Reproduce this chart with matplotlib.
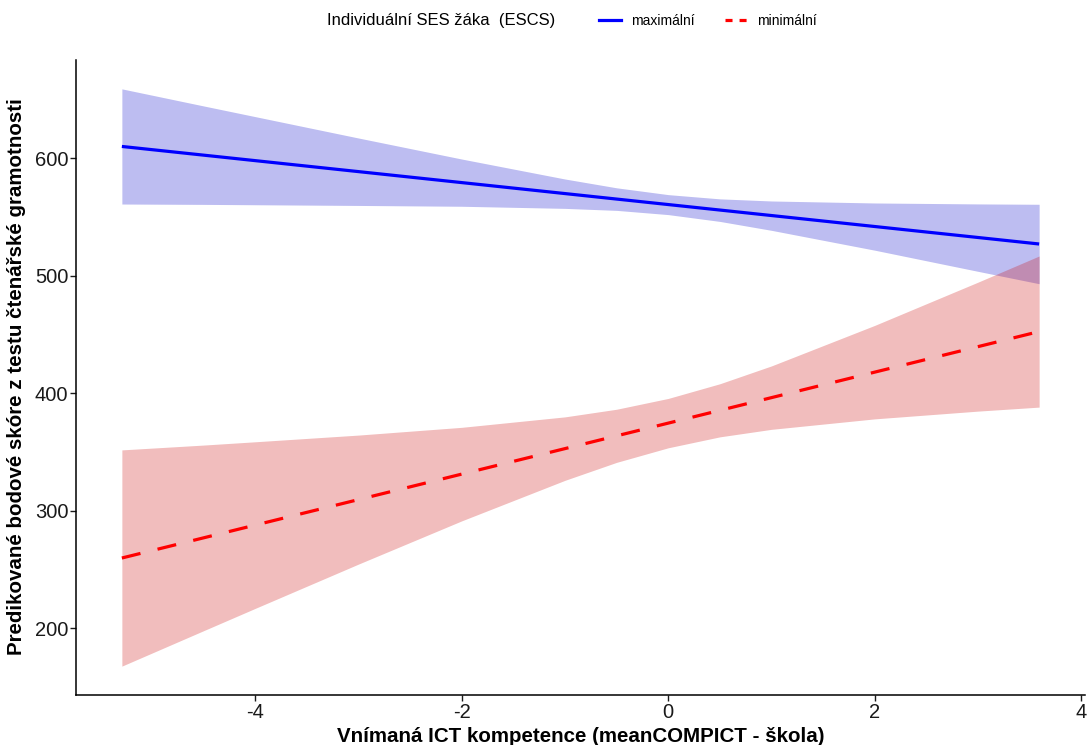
import matplotlib
matplotlib.use("Agg")
import matplotlib.pyplot as plt
from matplotlib.lines import Line2D

plt.rcParams['font.family'] = ['Liberation Sans', 'DejaVu Sans']

# ---- data ----
x_line = [-5.29, 3.59]
max_line = [610.0, 527.0]
min_line = [259.8, 452.5]

x_band = [-5.29, -4.5, -4, -3, -2, -1, -0.5, 0, 0.5, 1, 2, 3, 3.59]
max_low = [561.0, 560.7, 560.4, 559.8, 559.1, 557.3, 555.6, 552.0, 546.2, 538.6, 521.7, 503.7, 493.2]
max_high = [659.0, 644.5, 635.4, 617.2, 599.3, 582.3, 574.8, 569.0, 565.4, 563.6, 561.9, 561.1, 560.8]
min_low = [167.8, 197.9, 216.9, 254.6, 291.4, 325.9, 341.2, 353.6, 362.9, 369.3, 378.2, 384.8, 388.2]
min_high = [351.8, 355.9, 358.7, 364.4, 371.0, 379.9, 386.4, 395.6, 408.1, 423.3, 457.8, 494.6, 516.8]

x_ticks = [-4, -2, 0, 2, 4]
y_ticks = [200, 300, 400, 500, 600]
series_labels = ["maximální", "minimální"]
legend_title = "Individuální SES žáka  (ESCS)"
xlabel = "Vnímaná ICT kompetence (meanCOMPICT - škola)"
ylabel = "Predikované bodové skóre z testu čtenářské gramotnosti"

W, H = 1088, 745
fig = plt.figure(figsize=(W / 100, H / 100), dpi=100)
ax = fig.add_axes([76 / W, 1 - 695 / H, (1085 - 76) / W, (695 - 60) / H])

ax.fill_between(x_band, max_low, max_high, color='#0000CC', alpha=0.26, linewidth=0)
ax.fill_between(x_band, min_low, min_high, color='#CC0000', alpha=0.26, linewidth=0)
ax.plot(x_line, max_line, color='#0000FF', lw=2.3, solid_capstyle='butt')
ax.plot(x_line, min_line, color='#FF0000', lw=2.3, dashes=(6, 5.5), dash_capstyle='butt')

xr = x_line[1] - x_line[0]
ax.set_xlim(x_line[0] - 0.05 * xr, x_line[1] + 0.05 * xr)
ymin, ymax = min(min_low), max(max_high)
yr = ymax - ymin
ax.set_ylim(ymin - 0.05 * yr, ymax + 0.05 * yr)

ax.set_xticks(x_ticks)
ax.set_yticks(y_ticks)
ax.set_xticklabels([f"{t}" for t in x_ticks])
ax.tick_params(axis='both', labelsize=14.5, length=4, width=1, colors='#1a1a1a')
ax.tick_params(axis='y', pad=1.5)
ax.tick_params(axis='x', pad=1.5)
for s in ['top', 'right']:
    ax.spines[s].set_visible(False)
for s in ['left', 'bottom']:
    ax.spines[s].set_linewidth(1.1)
    ax.spines[s].set_color('black')

fig.text((76 + 1085) / 2 / W, 1 - 736 / H, xlabel, fontsize=14.8, fontweight='bold',
         ha='center', va='center')
fig.text(17 / W, 1 - 377 / H, ylabel, fontsize=14.8, fontweight='bold',
         ha='center', va='center', rotation=90)

# legend at top
fig.text(327 / W, 1 - 21 / H, legend_title, fontsize=12, va='center', ha='left')
handles = [
    Line2D([0], [0], color='#0000FF', lw=2.3),
    Line2D([0], [0], color='#FF0000', lw=2.3, dashes=(2.2, 2.2)),
]
fig.legend(handles, series_labels, loc='center left', bbox_to_anchor=(599 / W, 1 - 21 / H),
           ncol=2, frameon=False, fontsize=10, handlelength=1.6, handletextpad=0.7,
           columnspacing=2.2, borderpad=0, borderaxespad=0)

fig.savefig("out.png", dpi=100)
